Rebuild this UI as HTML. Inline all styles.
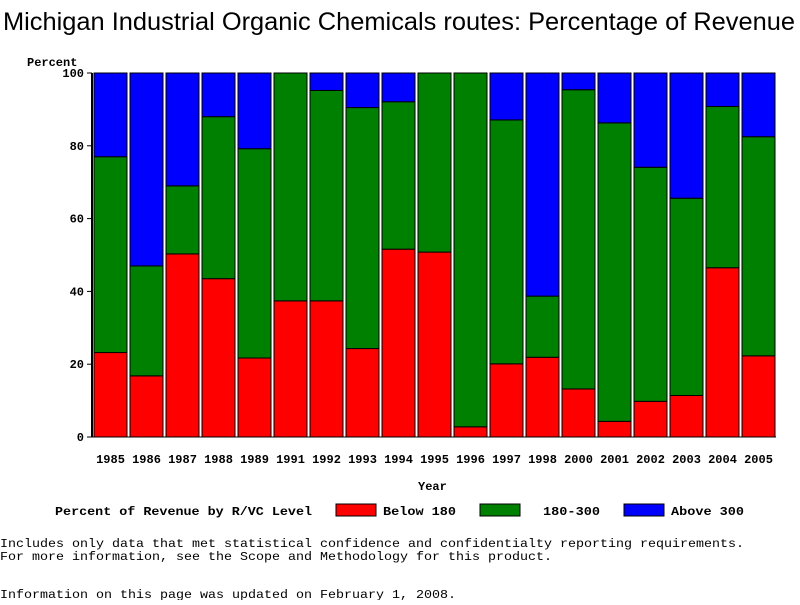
<!DOCTYPE html>
<html><head><meta charset="utf-8"><style>
body{margin:0;background:#fff;width:800px;height:600px;overflow:hidden}
svg text{font-family:"Liberation Mono",monospace;font-size:12px;font-weight:bold;fill:#000}
</style></head><body>
<svg id="c" width="800" height="600">
<text x="3" y="30" textLength="792" lengthAdjust="spacingAndGlyphs" style="font-family:'Liberation Sans',sans-serif;font-size:25px;font-weight:normal">Michigan Industrial Organic Chemicals routes: Percentage of Revenue</text>
<text x="27" y="66">Percent</text>
<text x="418" y="490">Year</text>
<g id="bars"></g><g id="axes"></g>
<g>
<text x="55" y="515" textLength="257" lengthAdjust="spacingAndGlyphs">Percent of Revenue by R/VC Level</text>
<rect x="336" y="504" width="40" height="12" fill="#f00" stroke="#000"/>
<text x="383" y="515" textLength="73" lengthAdjust="spacingAndGlyphs">Below 180</text>
<rect x="480" y="504" width="40" height="12" fill="#008000" stroke="#000"/>
<text x="543" y="515" textLength="57" lengthAdjust="spacingAndGlyphs">180-300</text>
<rect x="624" y="504" width="40" height="12" fill="#00f" stroke="#000"/>
<text x="671" y="515" textLength="73" lengthAdjust="spacingAndGlyphs">Above 300</text>
</g>
<g>
<text x="0" y="547" textLength="744" lengthAdjust="spacingAndGlyphs" style="font-weight:normal">Includes only data that met statistical confidence and confidentialty reporting requirements.</text>
<text x="0" y="560" textLength="552" lengthAdjust="spacingAndGlyphs" style="font-weight:normal">For more information, see the Scope and Methodology for this product.</text>
<text x="0" y="598" textLength="456" lengthAdjust="spacingAndGlyphs" style="font-weight:normal">Information on this page was updated on February 1, 2008.</text>
</g>
</svg>
<script>
const years=["1985","1986","1987","1988","1989","1991","1992","1993","1994","1995","1996","1997","1998","2000","2001","2002","2003","2004","2005"];
const below180=[23.2,16.8,50.3,43.5,21.7,37.4,37.4,24.3,51.6,50.8,2.8,20.1,21.9,13.2,4.3,9.8,11.4,46.5,22.3];
const mid180to300=[53.8,30.2,18.7,44.5,57.5,62.6,57.8,66.2,40.5,49.2,97.2,67.0,16.8,82.2,82.0,64.3,54.2,44.3,60.2];
const above300=[23.0,53.0,31.0,12.0,20.8,0,4.8,9.5,7.9,0,0,12.9,61.3,4.6,13.7,25.9,34.4,9.2,17.5];
const yTicks=[0,20,40,60,80,100];
const NS="http://www.w3.org/2000/svg";
const x0=92,pitch=36,bw=33,yTop=73,yBot=437;
const y=v=>yBot-(yBot-yTop)*v/100;
const bars=document.getElementById('bars'),axes=document.getElementById('axes');
function mk(tag,attrs,parent){const e=document.createElementNS(NS,tag);for(const k in attrs)e.setAttribute(k,attrs[k]);parent.appendChild(e);return e;}
years.forEach((yr,i)=>{
  const bx=x0+2+i*pitch;
  let base=0;
  [[below180,'#f00','below-180'],[mid180to300,'#008000','180-300'],[above300,'#00f','above-300']].forEach(([arr,col,nm])=>{
    const v=arr[i];if(v<=0)return;
    const r=mk('rect',{x:bx,y:y(base+v),width:bw,height:y(base)-y(base+v),fill:col,stroke:'#000','stroke-width':1},bars);
    
    
    base+=v;
  });
  const t=mk('text',{x:bx+bw/2,y:463,'text-anchor':'middle'},axes);t.textContent=yr;
  
  
});
const ax=mk('line',{x1:x0,y1:yTop,x2:x0,y2:yBot,stroke:'#000','stroke-width':2},axes);


const bx=mk('line',{x1:x0,y1:yBot,x2:776,y2:yBot,stroke:'#000','stroke-width':1},axes);


yTicks.forEach(v=>{
  mk('line',{x1:x0-5,y1:y(v),x2:x0,y2:y(v),stroke:'#000'},axes);
  const t=mk('text',{x:84,y:y(v)+4,'text-anchor':'end'},axes);t.textContent=v;
  
  
});
</script>
</body></html>
